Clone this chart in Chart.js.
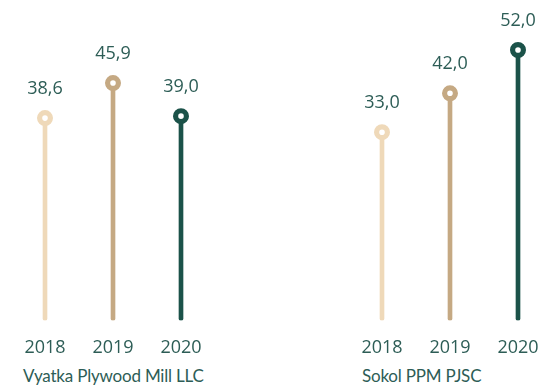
<!DOCTYPE html>
<html>
<head>
<meta charset="utf-8">
<script src="https://cdn.jsdelivr.net/npm/chart.js@4"></script>
<style>
  html, body { margin: 0; padding: 0; background: #fff; }
  body { width: 545px; height: 385px; overflow: hidden; position: relative; }
  .box { position: absolute; top: 0; width: 204px; height: 359px; }
  .name { position: absolute; top: 366px; font: 17px Lato, 'Open Sans', sans-serif; letter-spacing: -0.2px; line-height: 20px; color: #2d5d56; white-space: nowrap; }
</style>
</head>
<body>
<div class="box" style="left:11px"><canvas id="vyatkaChart"></canvas></div>
<div class="box" style="left:348px"><canvas id="sokolChart"></canvas></div>
<div class="name" id="name0" style="left:23px"></div>
<div class="name" id="name1" style="left:362px"></div>
<script>
const years = ['2018', '2019', '2020'];
const vyatkaValues = [38.6, 45.9, 39.0];
const sokolValues = [33.0, 42.0, 52.0];
const companies = ['Vyatka Plywood Mill LLC', 'Sokol PPM PJSC'];
const yearColors = ['#efd9b9', '#c5a983', '#1b5249'];

const textColor = '#2d5d56';

document.getElementById('name0').textContent = companies[0];
document.getElementById('name1').textContent = companies[1];

const valueLabels = {
    id: 'valueLabels',
    afterDatasetsDraw(chart) {
        const { ctx } = chart;
        const meta = chart.getDatasetMeta(0);
        const values = chart.data.datasets[0].data;
        ctx.save();
        ctx.font = '18px "Open Sans", sans-serif';
        ctx.fillStyle = textColor;
        ctx.textAlign = 'center';
        ctx.textBaseline = 'middle';
        meta.data.forEach(function(pt, i) {
            ctx.fillText(values[i].toFixed(1).replace('.', ','), pt.x, pt.y - 29);
        });
        ctx.restore();
    }
};

function makeChart(id, values, yMin, yMax) {
    const canvas = document.getElementById(id).getContext('2d');
    return new Chart(canvas, {
        type: 'bar',
        plugins: [valueLabels],
        data: {
            labels: years,
            datasets: [
                {
                    type: 'line',
                    data: values,
                    showLine: false,
                    pointRadius: 5.4,
                    pointBorderWidth: 5.2,
                    pointBackgroundColor: '#ffffff',
                    pointBorderColor: yearColors,
                    order: 0
                },
                {
                    type: 'bar',
                    data: values,
                    base: yMin,
                    backgroundColor: yearColors,
                    barThickness: 4,
                    borderRadius: 2,
                    borderSkipped: false,
                    order: 1
                }
            ]
        },
        options: {
            responsive: true,
            maintainAspectRatio: false,
            animation: false,
            layout: {
                autoPadding: false,
                padding: { top: 20, bottom: 0, left: 0, right: 0 }
            },
            plugins: {
                legend: { display: false },
                tooltip: { enabled: false }
            },
            scales: {
                x: {
                    grid: { display: false, drawTicks: true, tickLength: 17 },
                    border: { display: false },
                    ticks: {
                        color: textColor,
                        padding: 0,
                        font: { family: 'Open Sans', size: 18 }
                    }
                },
                y: {
                    display: false,
                    min: yMin,
                    max: yMax
                }
            }
        }
    });
}

const vyatkaChart = makeChart('vyatkaChart', vyatkaValues, -3.58, 59.05);
const sokolChart = makeChart('sokolChart', sokolValues, -10.5, 58.94);
</script>
</body>
</html>
